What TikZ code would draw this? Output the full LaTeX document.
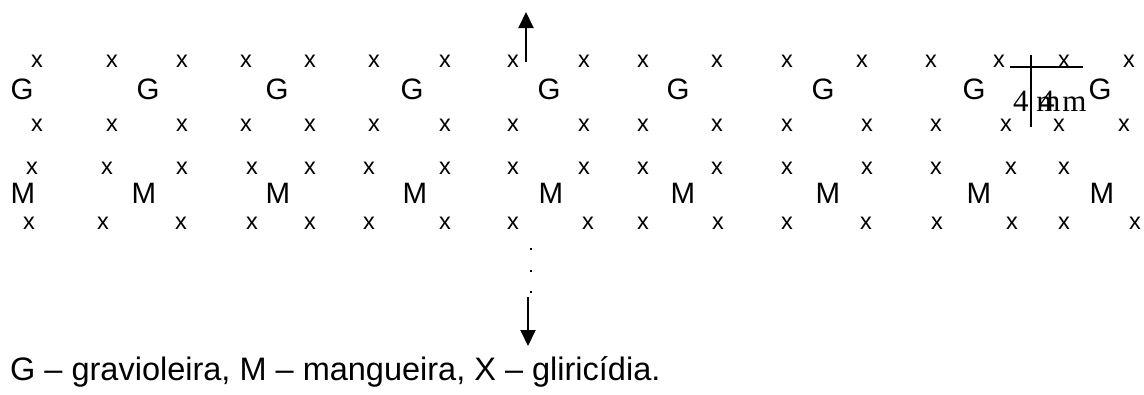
\documentclass[tikz,border=0pt]{standalone}
\usepackage{fontspec}
\setmainfont{Liberation Sans}
\newfontfamily\timesfam{Liberation Serif}
\usetikzlibrary{arrows.meta}
\begin{document}
\begin{tikzpicture}[x=1pt,y=-1pt,
  plant/.style={inner sep=0pt,font=\fontsize{23.5}{26}\selectfont},
  tree/.style={inner sep=0pt,font=\fontsize{29.5}{33}\selectfont},
  lbl/.style={inner sep=0pt,anchor=base west,font=\timesfam\fontsize{31}{35}\selectfont},
  legend/.style={inner sep=0pt,anchor=base west,font=\fontsize{32.5}{36}\selectfont},
  arr/.style={line width=2pt,-{Triangle[length=16pt,width=15pt]}},
  bar/.style={line width=1.6pt},
  dot/.style={fill=black,inner sep=0pt,minimum size=2.3pt,rectangle}]
\useasboundingbox (0,0) rectangle (1144,394);
% row 1 of gliricidia
\foreach \x [count=\i] in {37,112,182,246,310,374,445,513,584,643,717,787,862,931,999,1064,1129}
  \node[plant] (a\i) at (\x,61) {x};
% graviola row
\foreach \x [count=\i] in {22,148,277,412,549,678,823,974,1100}
  \node[tree] (g\i) at (\x,89) {G};
% row 2
\foreach \x [count=\i] in {37,112,182,246,310,374,445,513,584,643,717,787,867,936,1006,1059,1124}
  \node[plant] (b\i) at (\x,125) {x};
% row 3
\foreach \x [count=\i] in {32,107,182,252,310,369,445,513,584,643,717,787,867,936,1011,1064}
  \node[plant] (c\i) at (\x,168) {x};
% mangueira row
\foreach \x [count=\i] in {23,144,278,415,551,683,828,979,1102}
  \node[tree] (m\i) at (\x,193) {M};
% row 4
\foreach \x [count=\i] in {29,103,181,252,310,369,445,513,588,643,718,787,866,937,1012,1064,1135}
  \node[plant] (d\i) at (\x,223) {x};
% arrows
\coordinate (upS) at (526,62);
\coordinate (upE) at (526,12);
\draw[arr] (upS) -- (upE);
\coordinate (dnS) at (528,297);
\coordinate (dnE) at (528,346);
\draw[arr] (dnS) -- (dnE);
\node[dot] (p1) at (531,249) {};
\node[dot] (p2) at (531,271) {};
\node[dot] (p3) at (531,292) {};
% scale
\coordinate (hL) at (1010,67);
\coordinate (hR) at (1083,67);
\coordinate (vT) at (1031,55);
\coordinate (vB) at (1031,127);
\draw[bar] (hL) -- (hR);
\draw[bar] (vT) -- (vB);
\node[lbl] (s1) at (1013,111) {4 m};
\node[lbl] (s2) at (1039,111) {4 m};
% legend
\node[legend] (leg) at (10,380) {G – gravioleira, M – mangueira, X – gliricídia.};
\end{tikzpicture}
\end{document}
